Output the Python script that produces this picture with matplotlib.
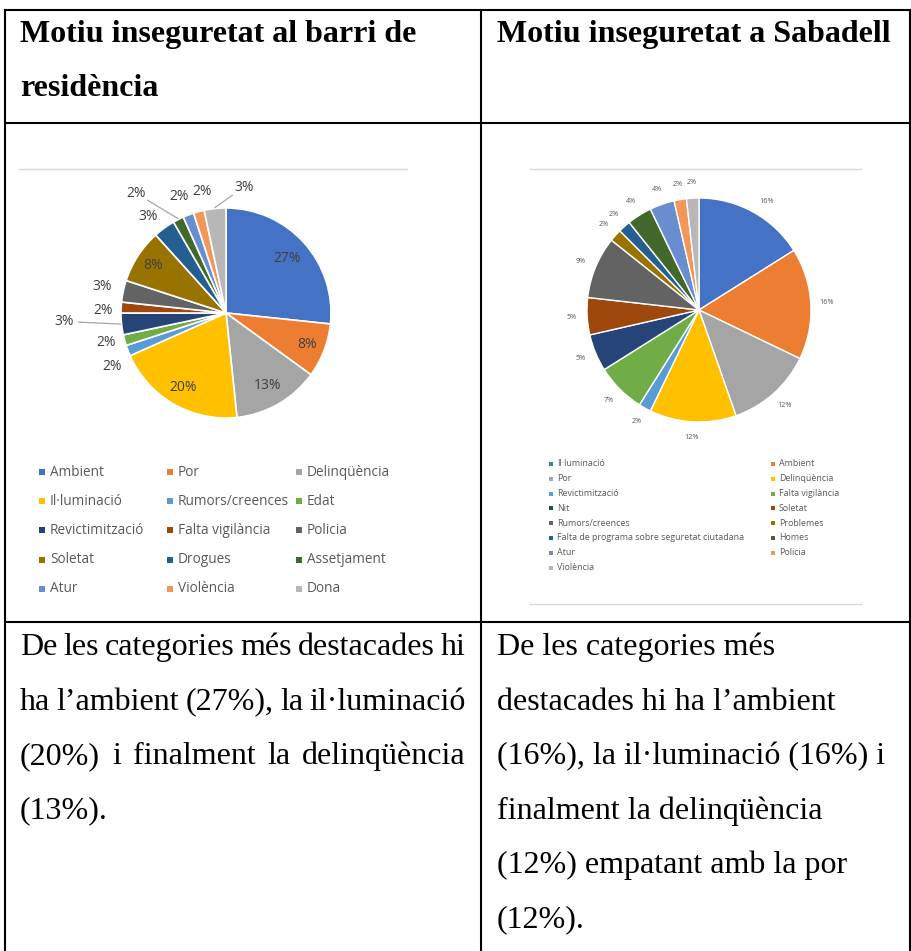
import numpy as np
import matplotlib
matplotlib.use("Agg")
import matplotlib.pyplot as plt

W, H = 912, 951

# neighbourhood chart (counts)
barri_labels = ["Ambient", "Por", "Delinqüència", "Il·luminació", "Rumors/creences", "Edat",
                "Revictimització", "Falta vigilància", "Policia", "Soletat", "Drogues",
                "Assetjament", "Atur", "Violència", "Dona"]
barri_counts = [16, 5, 8, 12, 1, 1, 2, 1, 2, 5, 2, 1, 1, 1, 2]

# Sabadell chart
sabadell_labels = ["Il·luminació", "Ambient", "Por", "Delinqüència", "Revictimització",
                   "Falta vigilància", "Nit", "Soletat", "Rumors/creences", "Problemes",
                   "Falta de programa sobre seguretat ciutadana", "Homes", "Atur", "Policia",
                   "Violència"]
sabadell_counts = [9, 9, 7, 7, 1, 4, 3, 3, 5, 1, 1, 2, 2, 1, 1]

office = ["#4472C4", "#ED7D31", "#A5A5A5", "#FFC000", "#5B9BD5", "#70AD47", "#264478",
          "#9E480E", "#636363", "#997300", "#255E91", "#43682B", "#698ED0", "#F1975A", "#B7B7B7"]

header_left = ["Motiu inseguretat al barri de", "residència"]
header_right = ["Motiu inseguretat a Sabadell"]
body_left = ["De les categories més destacades hi",
             "ha l’ambient (27%), la il·luminació",
             "(20%) i finalment la delinqüència",
             "(13%)."]
body_right = ["De les categories més",
              "destacades hi ha l’ambient",
              "(16%), la il·luminació (16%) i",
              "finalment la delinqüència",
              "(12%) empatant amb la por",
              "(12%)."]

SERIF = "Liberation Serif"
SANS = "Open Sans"


def pie_axes(fig, cx, cy, r):
    return fig.add_axes([(cx - r) / W, (H - cy - r) / H, 2 * r / W, 2 * r / H])


def label_points(wedges, dist, shift):
    pts = []
    for w, d, s in zip(wedges, dist, shift):
        ang = np.deg2rad((w.theta1 + w.theta2) / 2 - s)
        pts.append((d * np.cos(ang), d * np.sin(ang), ang))
    return pts


def main():
    fig = plt.figure(figsize=(W / 100, H / 100), dpi=100)
    bg = fig.add_axes([0, 0, 1, 1])
    bg.set_xlim(0, W)
    bg.set_ylim(H, 0)
    bg.axis("off")
    renderer = fig.canvas.get_renderer()

    # table grid
    lw = 1.5
    for x in [5, 481, 910]:
        bg.plot([x, x], [10, H + 5], color="black", lw=lw, solid_capstyle="projecting")
    for y in [10, 123, 622]:
        bg.plot([5, 910], [y, y], color="black", lw=lw, solid_capstyle="projecting")

    # headers
    for i, line in enumerate(header_left):
        bg.text(20, 42 + 54 * i, line, family=SERIF, weight="bold", fontsize=23, va="baseline")
    for i, line in enumerate(header_right):
        bg.text(497, 42 + 54 * i, line, family=SERIF, weight="bold", fontsize=23, va="baseline")

    # body text, left column justified
    def word_width(s):
        t = bg.text(0, 0, s, family=SERIF, fontsize=23)
        w = t.get_window_extent(renderer).width
        t.remove()
        return w

    for i, line in enumerate(body_left):
        y = 655 + 54.5 * i
        words = line.split()
        if i < len(body_left) - 1 and len(words) > 1:
            widths = [word_width(wd) for wd in words]
            gap = (466 - 20 - sum(widths)) / (len(words) - 1)
            x = 20
            for wd, ww in zip(words, widths):
                bg.text(x, y, wd, family=SERIF, fontsize=23, va="baseline")
                x += ww + gap
        else:
            bg.text(20, y, line, family=SERIF, fontsize=23, va="baseline")
    for i, line in enumerate(body_right):
        bg.text(497, 655 + 54.5 * i, line, family=SERIF, fontsize=23, va="baseline")

    # chart frames
    bg.plot([19, 407], [169, 169], color="#D9D9D9", lw=1)
    bg.plot([530, 861], [169, 169], color="#D9D9D9", lw=1)
    bg.plot([530, 861], [604, 604], color="#D9D9D9", lw=1)

    # left pie
    ax1 = pie_axes(fig, 226, 313, 105)
    wedges1, _ = ax1.pie(barri_counts, colors=office, startangle=90, counterclock=False,
                         wedgeprops=dict(edgecolor="white", linewidth=1.2))
    ax1.set_xlim(-1, 1)
    ax1.set_ylim(-1, 1)
    ax1.axis("off")
    dist1 = [0.78, 0.83, 0.8, 0.82, 1.2, 1.18, 1.54, 1.17, 1.21, 0.83, 1.18, 1.43, 1.2, 1.18, 1.21]
    shift1 = [0, 0, 0, 0, -4, 1, 3, -2, 0, 0, -3, -10, -1, 4, 14]
    leaders = [6, 11, 14]
    total1 = sum(barri_counts)
    for i, (x, y, ang) in enumerate(label_points(wedges1, dist1, shift1)):
        pct = f"{round(100 * barri_counts[i] / total1)}%"
        ax1.text(x, y, pct, ha="center", va="center", fontsize=10, color="#404040",
                 family=SANS)
        if i in leaders:
            w = wedges1[i]
            mid = np.deg2rad((w.theta1 + w.theta2) / 2)
            wx, wy = 1.01 * np.cos(mid), 1.01 * np.sin(mid)
            v = np.array([wx - x, wy - y])
            v = v / np.hypot(*v) * (14 / 105)
            ax1.plot([wx, x + v[0]], [wy, y + v[1]], color="#A6A6A6", lw=0.9, clip_on=False)

    # left legend, row by row in 3 columns
    for i, (lab, col) in enumerate(zip(barri_labels, office)):
        r, c = divmod(i, 3)
        x = [42, 170, 299][c]
        y = 472 + 29.2 * r
        bg.scatter([x], [y], marker="s", s=22, color=col, linewidths=0)
        bg.text(x + 8, y, lab, va="center", fontsize=9.8, color="#595959", family=SANS)

    # right pie
    ax2 = pie_axes(fig, 699, 310, 112)
    wedges2, _ = ax2.pie(sabadell_counts, colors=office, startangle=90, counterclock=False,
                         wedgeprops=dict(edgecolor="white", linewidth=1.0))
    ax2.set_xlim(-1, 1)
    ax2.set_ylim(-1, 1)
    ax2.axis("off")
    total2 = sum(sabadell_counts)
    shift2 = [3] + [0] * 14
    for i, (x, y, ang) in enumerate(label_points(wedges2, [1.14] * 15, shift2)):
        pct = f"{round(100 * sabadell_counts[i] / total2)}%"
        ax2.text(x, y, pct, ha="center", va="center", fontsize=5.2, color="#595959",
                 family=SANS)

    # right legend, 2 columns
    for i, (lab, col) in enumerate(zip(sabadell_labels, office)):
        r, c = divmod(i, 2)
        x = [551, 773][c]
        y = 464 + 14.8 * r
        bg.scatter([x], [y], marker="s", s=9, color=col, linewidths=0)
        bg.text(x + 6, y, lab, va="center", fontsize=6.4, color="#595959", family=SANS)

    fig.savefig("out.png", dpi=100)


if __name__ == "__main__":
    main()
